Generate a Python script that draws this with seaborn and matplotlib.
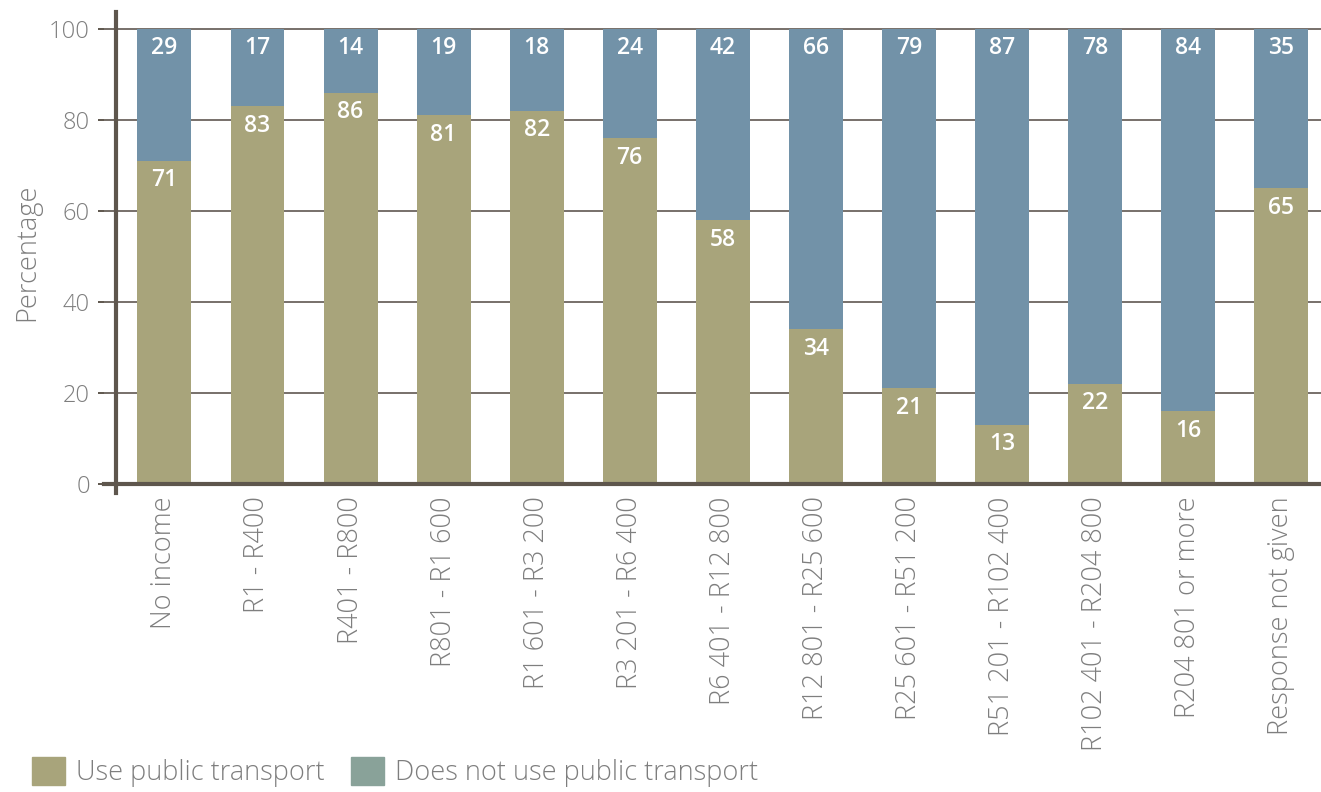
import pandas as pd
import matplotlib.pyplot as plt
import seaborn as sns
from matplotlib.patches import Patch

# -------------------------
# Data
# -------------------------
income_groups = [
    "No income", "R1 - R400", "R401 - R800", "R801 - R1 600",
    "R1 601 - R3 200", "R3 201 - R6 400", "R6 401 - R12 800",
    "R12 801 - R25 600", "R25 601 - R51 200", "R51 201 - R102 400",
    "R102 401 - R204 800", "R204 801 or more", "Response not given",
]
use_pt = [71, 83, 86, 81, 82, 76, 58, 34, 21, 13, 22, 16, 65]
not_use_pt = [29, 17, 14, 19, 18, 24, 42, 66, 79, 87, 78, 84, 35]
y_ticks = [0, 20, 40, 60, 80, 100]

OLIVE = "#A8A47B"
BLUE = "#7292A8"
LEGEND_GREY = "#89A299"
SPINE = "#5E564D"
TEXT = "#7E7E7E"

df = pd.DataFrame({"group": income_groups, "use": use_pt, "not_use": not_use_pt})
df["total"] = df["use"] + df["not_use"]

sns.set_theme(style="white")
plt.rcParams["font.family"] = ["Open Sans", "DejaVu Sans"]

fig = plt.figure(figsize=(13.21, 7.92), dpi=100)
ax = fig.add_axes([0.0787, 0.3775, 1 - 0.0787, 0.6073])

# stacked bars: full total in blue, "use" drawn over it in olive
sns.barplot(data=df, x="group", y="total", color=BLUE, saturation=1,
            width=0.58, linewidth=0, ax=ax, zorder=3)
sns.barplot(data=df, x="group", y="use", color=OLIVE, saturation=1,
            width=0.58, linewidth=0, ax=ax, zorder=4)

for i, (u, t) in enumerate(zip(df["use"], df["total"])):
    ax.text(i, u - 4.3, str(u), ha="center", va="center", color="white",
            fontsize=16.5, fontweight="semibold", zorder=5)
    ax.text(i, t - 4.3, str(t - u), ha="center", va="center", color="white",
            fontsize=16.5, fontweight="semibold", zorder=5)

# axes styling
ax.set_xlim(-0.65, 12.43)
ax.set_ylim(-2, 103.7)
for y in y_ticks[1:]:
    ax.axhline(y, color="#77706A", lw=1.4, zorder=1)

for s in ["top", "right"]:
    ax.spines[s].set_visible(False)
ax.spines["left"].set_position(("data", -0.516))
ax.spines["bottom"].set_position(("data", 0))
for s in ["left", "bottom"]:
    ax.spines[s].set_color(SPINE)
    ax.spines[s].set_linewidth(3)
    ax.spines[s].set_zorder(6)

ax.set_yticks(y_ticks)
ax.tick_params(axis="y", direction="out", length=13, width=1.4, color=SPINE,
               labelsize=17, labelcolor=TEXT, pad=6, left=True)
ax.tick_params(axis="x", length=0, labelsize=19.5, labelcolor=TEXT, pad=9)
for lbl in ax.get_xticklabels() + ax.get_yticklabels():
    lbl.set_fontweight("light")
for lbl in ax.get_xticklabels():
    lbl.set_rotation(90)

ax.set_xlabel("")
ax.set_ylabel("Percentage", fontsize=19.5, color=TEXT, fontweight="light", labelpad=6)

# legend (legend swatch colours differ slightly from bars, as in source)
handles = [Patch(color=OLIVE, label="Use public transport"),
           Patch(color=LEGEND_GREY, label="Does not use public transport")]
fig.legend(handles=handles, loc="lower left", bbox_to_anchor=(0.006, -0.025),
           ncol=2, frameon=False, handlelength=1.2, handleheight=1.2,
           handletextpad=0.4, columnspacing=1.0, labelcolor=TEXT,
           prop={"size": 19.5, "weight": "light"})

fig.savefig("out.png", dpi=100)
plt.close(fig)
